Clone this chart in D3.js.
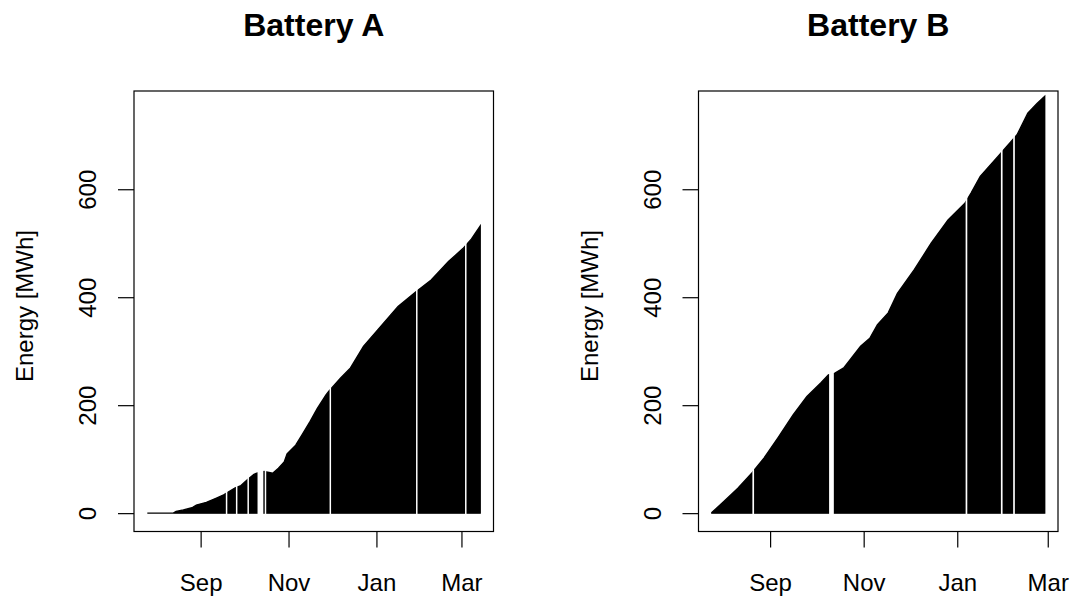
<!DOCTYPE html>
<html>
<head>
<meta charset="utf-8">
<script src="https://cdn.jsdelivr.net/npm/d3@7"></script>
<style>
  html, body { margin: 0; padding: 0; background: #fff; }
  svg { display: block; font-family: "Liberation Sans", Arial, sans-serif; }
</style>
</head>
<body>
<script>
// ---------------- data ----------------
const titles = ["Battery A", "Battery B"];
const yLabel = "Energy [MWh]";
const yTicks = [0, 200, 400, 600];
const xTickDates = ["2012-09-01", "2012-11-01", "2013-01-01", "2013-03-01"];
const xTickLabels = ["Sep", "Nov", "Jan", "Mar"];

// Battery A: cumulative energy read at dates
const datesA = ["2012-07-26","2012-08-13","2012-08-15","2012-08-20","2012-08-26","2012-08-29",
  "2012-09-05","2012-09-12","2012-09-17","2012-09-19","2012-09-25","2012-09-29","2012-10-03",
  "2012-10-08","2012-10-10","2012-10-15","2012-10-21","2012-10-25","2012-10-29","2012-10-31",
  "2012-11-06","2012-11-11","2012-11-16","2012-11-21","2012-11-27","2012-11-29","2012-12-07",
  "2012-12-14","2012-12-23","2013-01-04","2013-01-16","2013-01-28","2013-02-08","2013-02-20",
  "2013-03-02","2013-03-08","2013-03-14"];
const valuesA = [0,0,3,6,10,15,
  20,28,34,37,47,51,61,
  72,74,77,74,83,95,110,
  126,148,170,194,219,226,250,
  269,309,346,383,409,432,466,
  490,508,532];
// days without a record (white gaps)
const missingA = ["2012-09-19","2012-09-26","2012-10-04","2012-10-11","2012-10-12","2012-10-13",
  "2012-10-14","2012-10-16","2012-11-30","2013-01-29","2013-03-04"];

// Battery B
const datesB = ["2012-07-25","2012-08-02","2012-08-11","2012-08-20","2012-08-28","2012-09-06",
  "2012-09-16","2012-09-25","2012-10-04","2012-10-09","2012-10-13","2012-10-19","2012-10-30",
  "2012-11-05","2012-11-10","2012-11-17","2012-11-23","2012-12-04","2012-12-15","2012-12-26",
  "2013-01-06","2013-01-10","2013-01-16","2013-01-28","2013-02-05","2013-02-09","2013-02-16",
  "2013-02-22","2013-02-27"];
const valuesB = [1,22,46,74,102,139,
  182,216,241,256,259,269,309,
  324,349,371,407,451,500,543,
  574,593,624,662,688,701,741,
  759,772];
const missingB = ["2012-08-21","2012-10-10","2012-10-11","2012-10-12","2013-01-07","2013-01-30","2013-02-07"];

// ---------------- layout ----------------
const W = 1071, H = 598;
const plotTop = 91, plotBottom = 531.5, plotWidth = 359.5;
const panelLeft = [134, 698.5];
const yLim = [-34, 782];
const fontAxis = 24, fontTitle = 32;

const parse = d3.timeParse("%Y-%m-%d");
const panels = [
  { title: titles[0], dates: datesA, values: valuesA, missing: missingA },
  { title: titles[1], dates: datesB, values: valuesB, missing: missingB }
];

const svg = d3.select("body").append("svg").attr("width", W).attr("height", H);

panels.forEach((p, i) => {
  const left = panelLeft[i], right = left + plotWidth;
  const data = p.dates.map((d, k) => ({ date: parse(d), value: p.values[k] }));
  const t0 = data[0].date, t1 = data[data.length - 1].date;
  const pad = (t1 - t0) * 0.04;
  const x = d3.scaleTime().domain([new Date(+t0 - pad), new Date(+t1 + pad)]).range([left, right]);
  const y = d3.scaleLinear().domain(yLim).range([plotBottom, plotTop]);

  const g = svg.append("g");
  const clipId = "clip" + i;
  svg.append("defs").append("clipPath").attr("id", clipId)
    .append("rect").attr("x", left).attr("y", plotTop).attr("width", plotWidth).attr("height", plotBottom - plotTop);

  const plot = g.append("g").attr("clip-path", `url(#${clipId})`);
  const area = d3.area().x(d => x(d.date)).y0(y(0)).y1(d => y(d.value));
  plot.append("path").datum(data).attr("d", area)
    .attr("fill", "#000").attr("stroke", "#000").attr("stroke-width", 1.4).attr("stroke-linejoin", "miter");

  // group consecutive missing days into runs
  const miss = p.missing.map(parse).sort((a, b) => a - b);
  const runs = [];
  miss.forEach(d => {
    const last = runs[runs.length - 1];
    if (last && d3.timeDay.count(last[1], d) === 1) last[1] = d;
    else runs.push([d, d]);
  });
  plot.selectAll("rect.gap").data(runs).join("rect").attr("class", "gap")
    .attr("x", r => x(d3.timeDay.offset(r[0], -1)) + 0.7)
    .attr("width", r => x(d3.timeDay.offset(r[1], 1)) - x(d3.timeDay.offset(r[0], -1)) - 1.4)
    .attr("y", plotTop + 1)
    .attr("height", y(0) + 2 - plotTop - 1)
    .attr("fill", "#fff");

  // box
  g.append("rect").attr("x", left).attr("y", plotTop).attr("width", plotWidth).attr("height", plotBottom - plotTop)
    .attr("fill", "none").attr("stroke", "#000").attr("stroke-width", 1.2);

  // y axis
  const ya = g.append("g").attr("transform", `translate(${left},0)`)
    .call(d3.axisLeft(y).tickValues(yTicks).tickSize(16).tickFormat(d3.format("d")));
  ya.select(".domain").remove();
  ya.selectAll(".tick line").attr("stroke", "#000").attr("stroke-width", 1.2);
  ya.selectAll(".tick text")
    .attr("x", null).attr("dy", null)
    .attr("transform", "translate(-38,0) rotate(-90)")
    .attr("text-anchor", "middle")
    .attr("font-size", fontAxis).attr("font-family", "Liberation Sans, Arial, sans-serif").attr("fill", "#000");

  // x axis
  const xa = g.append("g").attr("transform", `translate(0,${plotBottom})`)
    .call(d3.axisBottom(x).tickValues(xTickDates.map(parse)).tickSize(16).tickFormat((d, k) => xTickLabels[k]));
  xa.select(".domain").remove();
  xa.selectAll(".tick line").attr("stroke", "#000").attr("stroke-width", 1.2);
  xa.selectAll(".tick text")
    .attr("y", 59.5).attr("dy", null)
    .attr("font-size", fontAxis).attr("font-family", "Liberation Sans, Arial, sans-serif").attr("fill", "#000");

  // y label
  g.append("text")
    .attr("transform", `translate(${left - 101},306) rotate(-90)`)
    .attr("text-anchor", "middle")
    .attr("font-size", fontAxis)
    .text(yLabel);

  // title
  g.append("text")
    .attr("x", (left + right) / 2).attr("y", 36)
    .attr("text-anchor", "middle")
    .attr("font-size", fontTitle).attr("font-weight", "bold")
    .text(p.title);
});
</script>
</body>
</html>
